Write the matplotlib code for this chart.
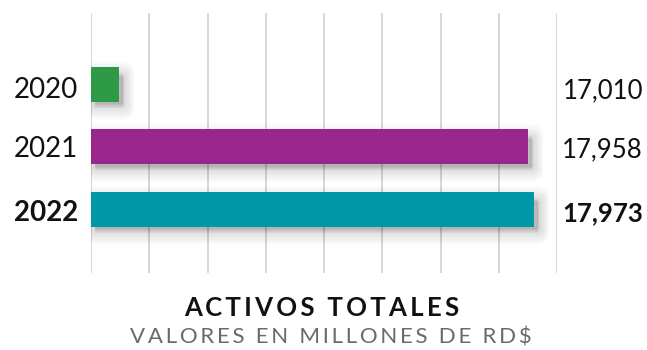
import matplotlib.pyplot as plt
import matplotlib.transforms as mtransforms
import numpy as np

years = ['2020', '2021', '2022']
values = [17010, 17958, 17973]
labels = ['17,010', '17,958', '17,973']
colors = ['#2e9a48', '#98268b', '#0097a7']
bold = [False, False, True]

x_min, x_max = 16944, 18026

plt.rcParams['font.family'] = ['Lato', 'DejaVu Sans']

fig = plt.figure(figsize=(6.47, 3.5), dpi=100)
W, H = 647, 350
ax = fig.add_axes([91 / W, 1 - 273 / H, (557 - 91) / W, (273 - 13) / H])

ypos = np.arange(len(years))
ax.set_xlim(x_min, x_max)
ax.set_ylim(2 + 1.02, -1.14)

# vertical grid lines
for gx in np.linspace(x_min, x_max, 9):
    ax.axvline(gx, color='#cfcccb', lw=1.1, zorder=0)

# soft drop shadow
for i in range(8):
    off = mtransforms.offset_copy(ax.transData, fig=fig, x=4, y=-6, units='dots')
    ax.barh(ypos, [v - x_min for v in values], left=x_min, height=0.56 - 0.02 * i,
            color='black', alpha=0.018, lw=16 - 2 * i, edgecolor='black',
            joinstyle='round', transform=off, zorder=1)

ax.barh(ypos, [v - x_min for v in values], left=x_min, height=0.56,
        color=colors, zorder=3)

ax.set_xticks([])
ax.set_yticks([])
for s in ax.spines.values():
    s.set_visible(False)

baselines = [98, 157, 221]
for i, (yr, lab) in enumerate(zip(years, labels)):
    w = 'bold' if bold[i] else 'normal'
    fig.text(78 / W, 1 - baselines[i] / H, yr, ha='right', va='baseline',
             fontsize=20, fontweight=w, color='#111111')
    fig.text(643 / W, 1 - baselines[i] / H, lab, ha='right', va='baseline',
             fontsize=18.5, fontweight=w, color='#111111')

thin = '\u2009'
fig.text(322 / W, 1 - 316 / H, thin.join('ACTIVOS TOTALES'), ha='center', va='baseline',
         fontsize=18.5, fontweight='bold', color='#111111')
fig.text(331 / W, 1 - 343 / H, thin.join('VALORES EN MILLONES DE RD$'), ha='center',
         va='baseline', fontsize=16, color='#6a6a6a')

fig.savefig('out.png', dpi=100)
